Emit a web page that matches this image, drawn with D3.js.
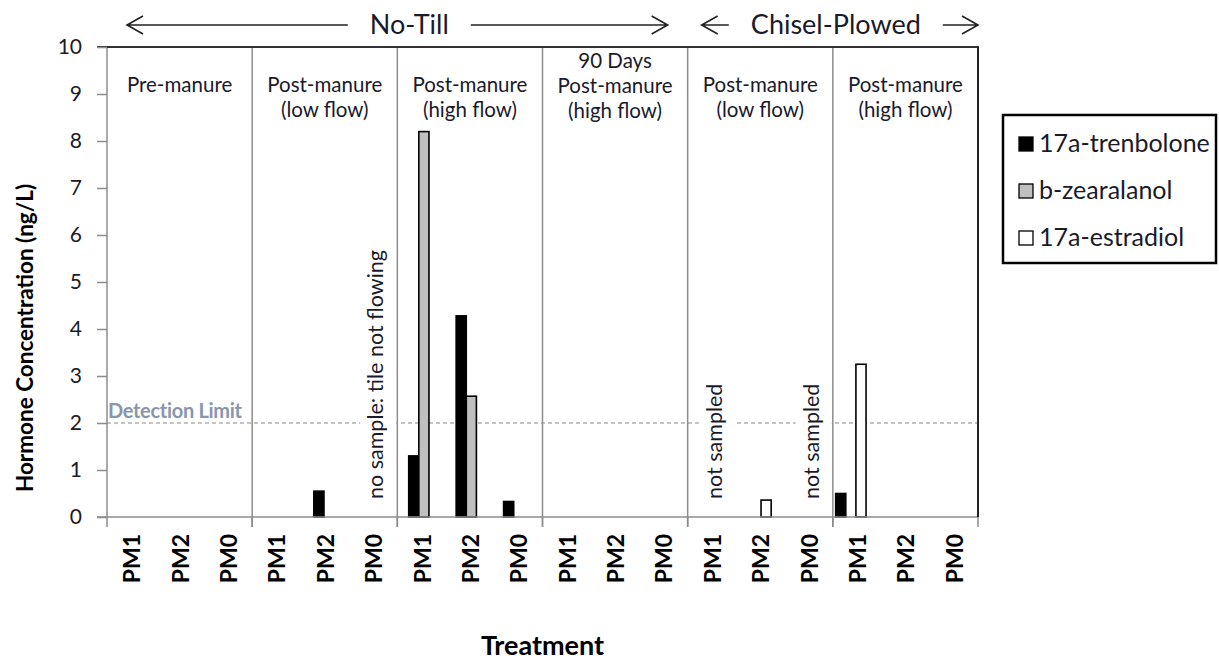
<!DOCTYPE html>
<html><head><meta charset="utf-8">
<script src="https://cdn.jsdelivr.net/npm/d3@7"></script>
<style>
html,body{margin:0;padding:0;background:#fff;}
svg{display:block;font-family:Lato,"Open Sans",sans-serif;}
</style></head>
<body><svg id="chart" width="1219" height="664"></svg>
<script>
// ---- data ----
const categories = ["PM1","PM2","PM0","PM1","PM2","PM0","PM1","PM2","PM0","PM1","PM2","PM0","PM1","PM2","PM0","PM1","PM2","PM0"];
const groupLabels = [["Pre-manure"],["Post-manure","(low flow)"],["Post-manure","(high flow)"],["90 Days","Post-manure","(high flow)"],["Post-manure","(low flow)"],["Post-manure","(high flow)"]];
const seriesNames = ["17a-trenbolone","b-zearalanol","17a-estradiol"];
const seriesColors = ["#000000","#c0c0c0","#ffffff"];
const trenbolone = [0,0,0, 0,0.55,0, 1.3,4.28,0.33, 0,0,0, 0,0,0, 0.5,0,0];
const zearalanol = [0,0,0, 0,0,0, 8.2,2.57,0, 0,0,0, 0,0,0, 0,0,0];
const estradiol  = [0,0,0, 0,0,0, 0,0,0, 0,0,0, 0,0.36,0, 3.25,0,0];
const yTicks = [0,1,2,3,4,5,6,7,8,9,10];
const detectionLimit = 2;
const annotations = [{cat:5, text:"no sample: tile not flowing"},{cat:12, text:"not sampled"},{cat:14, text:"not sampled"}];
const tillage = [{label:"No-Till", from:0, to:12, shift:12, leftPad:20, rightPad:20},
                 {label:"Chisel-Plowed", from:12, to:18, shift:3, leftPad:14, rightPad:0}];

// ---- layout ----
const svg = d3.select("#chart");
const M = {left:107, right:978, top:47, bottom:517};
const txt = "#1a1a2a";

const xOuter = d3.scaleLinear().domain([0, categories.length]).range([M.left, M.right]);
const x = d3.scaleBand().domain(d3.range(categories.length)).range([M.left, M.right]).padding(0.36);
const xs = d3.scaleBand().domain(d3.range(seriesNames.length)).range([0, x.bandwidth()]);
const y = d3.scaleLinear().domain([0,10]).range([M.bottom, M.top]);

// detection limit line
svg.append("line").attr("x1",M.left).attr("x2",M.right)
  .attr("y1",y(detectionLimit)).attr("y2",y(detectionLimit))
  .attr("stroke","#8a8a8a").attr("stroke-width",1.2).attr("stroke-dasharray","4,3");
svg.append("text").attr("x",M.left+1).attr("y",y(detectionLimit)-5)
  .attr("font-size",20).attr("font-weight","bold").attr("fill","#8796ae").attr("letter-spacing",-0.3)
  .text("Detection Limit");

// annotations (with white backing to break the dashed line)
const annG = svg.append("g");
annotations.forEach(a=>{
  const cx = xOuter(a.cat+0.5);
  const t = annG.append("text").attr("transform",`translate(${cx+10},${M.bottom-18}) rotate(-90)`)
    .attr("font-size",21.5).attr("fill",txt).text(a.text);
  const len = t.node().getComputedTextLength();
  annG.insert("rect","text").attr("x",cx-13).attr("width",36)
    .attr("y",M.bottom-18-len-4).attr("height",len+8).attr("fill","#fff");
});

// group separators
const seps = d3.range(3, categories.length, 3);
svg.selectAll(".sep").data(seps).join("line")
  .attr("x1",d=>xOuter(d)).attr("x2",d=>xOuter(d))
  .attr("y1",M.top).attr("y2",M.bottom+10)
  .attr("stroke","#8c8c8c").attr("stroke-width",1.5);

// bars
const series = [trenbolone, zearalanol, estradiol];
series.forEach((vals,si)=>{
  svg.append("g").selectAll("rect").data(vals.map((v,i)=>({v,i})).filter(d=>d.v>0)).join("rect")
    .attr("x",d=>x(d.i)+xs(si)).attr("width",xs.bandwidth())
    .attr("y",d=>y(d.v)).attr("height",d=>y(0)-y(d.v))
    .attr("fill",seriesColors[si]).attr("stroke","#000").attr("stroke-width",1.6);
});

// axes frame
svg.append("line").attr("x1",M.left).attr("x2",M.left).attr("y1",M.top).attr("y2",M.bottom)
  .attr("stroke","#8c8c8c").attr("stroke-width",1.5);
svg.append("line").attr("x1",M.left-10).attr("x2",M.right).attr("y1",M.bottom).attr("y2",M.bottom)
  .attr("stroke","#8c8c8c").attr("stroke-width",1.5);
svg.append("line").attr("x1",M.left-10).attr("x2",M.right+1).attr("y1",M.top).attr("y2",M.top)
  .attr("stroke","#333").attr("stroke-width",2);
svg.append("line").attr("x1",M.right).attr("x2",M.right).attr("y1",M.top).attr("y2",M.bottom)
  .attr("stroke","#222").attr("stroke-width",2);
// bottom ticks at group boundaries
svg.selectAll(".bt").data([0,3,6,9,12,15,18]).join("line")
  .attr("x1",d=>xOuter(d)).attr("x2",d=>xOuter(d)).attr("y1",M.bottom).attr("y2",M.bottom+10)
  .attr("stroke","#8c8c8c").attr("stroke-width",1.5);

// y axis
const yAxis = d3.axisLeft(y).tickValues(yTicks).tickSize(10).tickPadding(15).tickFormat(d3.format("d"));
const yg = svg.append("g").attr("transform",`translate(${M.left},0)`).call(yAxis);
yg.select(".domain").remove();
yg.selectAll(".tick line").attr("stroke","#8c8c8c").attr("stroke-width",1.5);
yg.selectAll(".tick text").attr("font-size",21).attr("font-family","Lato").attr("fill",txt);

// x tick labels
svg.selectAll(".xl").data(categories).join("text")
  .attr("transform",(d,i)=>`translate(${xOuter(i+0.5)+9},${M.bottom+17}) rotate(-90)`)
  .attr("text-anchor","end").attr("font-size",23).attr("font-weight","bold").attr("fill","#000")
  .text(d=>d);

// group labels
groupLabels.forEach((lines,gi)=>{
  const cx = xOuter(gi*3+1.5);
  const start = 92 - (lines.length-2>0 ? 24 : 0);
  const t = svg.append("text").attr("text-anchor","middle").attr("font-size",20.5).attr("fill",txt);
  lines.forEach((l,li)=>{
    t.append("tspan").attr("x",cx).attr("y",start+li*25).text(l);
  });
});

// tillage headers with arrows
tillage.forEach(tl=>{
  const x0 = xOuter(tl.from), x1 = xOuter(tl.to);
  const cx = (x0+x1)/2 + tl.shift;
  const t = svg.append("text").attr("x",cx).attr("y",34).attr("text-anchor","middle")
    .attr("font-size",27).attr("fill",txt).text(tl.label);
  const w = t.node().getComputedTextLength();
  const gap = 22;
  const ay = 25;
  const lA = [x0+tl.leftPad, cx-w/2-gap];
  const rA = [cx+w/2+gap, x1-tl.rightPad];
  const st = {stroke:"#222","stroke-width":1.6,fill:"none"};
  const p1 = svg.append("path").attr("d",`M${lA[1]},${ay}H${lA[0]}M${lA[0]+16},${ay-9}L${lA[0]},${ay}L${lA[0]+16},${ay+9}`);
  const p2 = svg.append("path").attr("d",`M${rA[0]},${ay}H${rA[1]}M${rA[1]-16},${ay-9}L${rA[1]},${ay}L${rA[1]-16},${ay+9}`);
  [p1,p2].forEach(p=>Object.entries(st).forEach(([k,v])=>p.attr(k,v)));
});

// axis titles
svg.append("text").attr("transform",`translate(33,338) rotate(-90)`).attr("text-anchor","middle")
  .attr("font-size",22.5).attr("font-weight","bold").attr("fill","#000").text("Hormone Concentration (ng/L)");
svg.append("text").attr("x",(M.left+M.right)/2).attr("y",655).attr("text-anchor","middle")
  .attr("font-size",27).attr("font-weight","bold").attr("fill","#000").text("Treatment");

// legend
const lg = svg.append("g");
lg.append("rect").attr("x",1003).attr("y",115).attr("width",213).attr("height",148)
  .attr("fill","#fff").attr("stroke","#000").attr("stroke-width",2.5);
seriesNames.forEach((n,i)=>{
  const cy = 144 + i*47;
  lg.append("rect").attr("x",1019).attr("y",cy-7).attr("width",14).attr("height",14)
    .attr("fill",seriesColors[i]).attr("stroke","#000").attr("stroke-width",1.3);
  lg.append("text").attr("x",1039).attr("y",cy+8).attr("font-size",25).attr("fill",txt).text(n);
});
</script></body></html>
